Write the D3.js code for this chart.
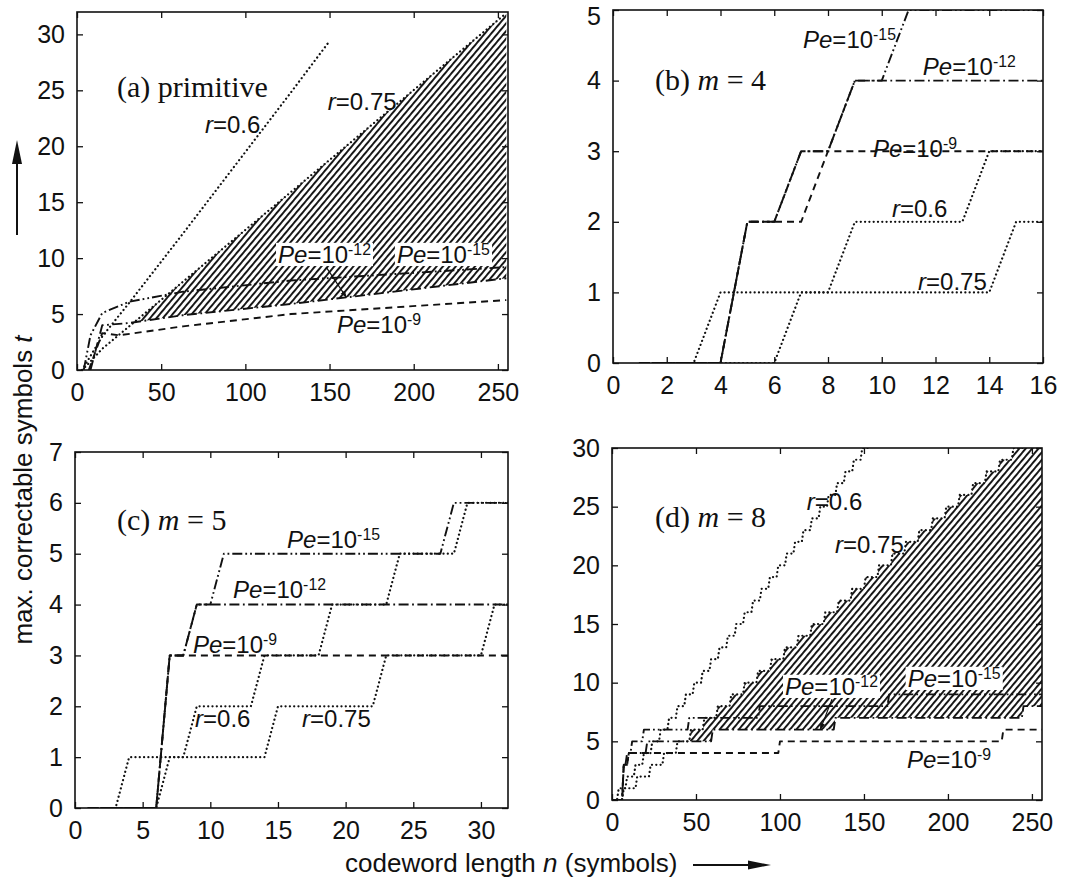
<!DOCTYPE html>
<html>
<head>
<meta charset="utf-8">
<script src="https://cdn.jsdelivr.net/npm/d3@7"></script>
<style>
  body { margin: 0; background: #fff; }
  svg { display: block; }
  text { font-family: "Liberation Sans", Arial, Helvetica, sans-serif; fill: #111; }
</style>
</head>
<body>
<svg id="chart" width="1081" height="884"></svg>
<script>
// ---------- data ----------
// (a) primitive codes: [n, t] polylines
const aRate06  = [[3,0],[7,1],[15,3],[31,6],[63,12.2],[127,24.8],[149,29.2]];
const aRate075 = [[3,0],[7,0.6],[15,1.9],[31,3.9],[63,7.9],[127,15.9],[255,31.9]];
const aPe9  = [[7,0],[15,3.3],[25,3.1],[63,3.9],[127,5.0],[255,6.25]];
const aPe12 = [[8,0],[15,4.0],[31,4.2],[63,4.9],[127,5.9],[255,8.2]];
const aPe15 = [[4,0],[8,3.1],[15,5.1],[31,6.1],[63,7.0],[127,8.0],[255,9.2]];

// (b) m = 4: [n, t] pairs where t changes
const bPe9    = [[1,0],[5,2],[8,3]];
const bPe12   = [[1,0],[5,2],[7,3],[9,4]];
const bPe15   = [[1,0],[5,2],[7,3],[9,4],[11,5]];
const bRate06 = [[1,0],[4,1],[9,2],[14,3]];
const bRate075= [[1,0],[7,1],[15,2]];

// (c) m = 5
const cPe9    = [[1,0],[7,3]];
const cPe12   = [[1,0],[7,3],[9,4]];
const cPe15   = [[1,0],[7,3],[9,4],[11,5],[28,6]];
const cRate06 = [[1,0],[4,1],[9,2],[14,3],[19,4],[24,5],[29,6]];
const cRate075= [[1,0],[7,1],[15,2],[23,3],[31,4]];

// (d) m = 8
const dPe9  = [[1,0],[7,3],[10,4],[100,5],[233,6]];
const dPe12 = [[1,0],[7,3],[10,4],[21,5],[60,6],[133,7],[245,8]];
const dPe15 = [[1,0],[7,3],[9,4],[12,5],[19,6],[46,7],[88,8],[165,9]];
// n at which t grows by one symbol
const dRate06Steps  = [4,9,14,19,24,29,34,39,44,49,54,59,64,69,74,79,84,89,94,99,104,109,114,119,124,129,134,139,144,149,154];
const dRate075Steps = [7,15,23,31,39,47,55,63,71,79,87,95,103,111,119,127,135,143,151,159,167,175,183,191,199,207,215,223,231,239,247,255];

// tick values
const ticksN256 = [0,50,100,150,200,250];
const ticksT30  = [0,5,10,15,20,25,30];
const ticksN16  = [0,2,4,6,8,10,12,14,16];
const ticksT5   = [0,1,2,3,4,5];
const ticksN32  = [0,5,10,15,20,25,30];
const ticksT7   = [0,1,2,3,4,5,6,7];

// ---------- helpers ----------
// turn [n, t] change points into a polyline over integer n
function stepLine(changes, nEnd) {
  const pts = [[changes[0][0], changes[0][1]]];
  for (let i = 1; i < changes.length; i++) {
    const [n, t] = changes[i];
    const prev = pts[pts.length - 1];
    if (n - 1 > prev[0]) pts.push([n - 1, prev[1]]);
    pts.push([n, t]);
  }
  const last = pts[pts.length - 1];
  if (nEnd > last[0]) pts.push([nEnd, last[1]]);
  return pts;
}
function fromIncrements(steps) {
  return [[1, 0]].concat(steps.map((n, i) => [n, i + 1]));
}
function valueAt(pts, n) {
  if (n <= pts[0][0]) return pts[0][1];
  for (let i = 1; i < pts.length; i++) {
    if (n <= pts[i][0]) {
      const [n0, t0] = pts[i - 1], [n1, t1] = pts[i];
      return n1 === n0 ? t1 : t0 + (t1 - t0) * (n - n0) / (n1 - n0);
    }
  }
  return pts[pts.length - 1][1];
}

const STYLE = {
  pe9:  { dash: "7,5", w: 1.9 },
  pe12: { dash: "10,3.5,1.8,3.5", w: 1.9 },
  pe15: { dash: "10,3,1.8,3,1.8,3", w: 1.9 },
  rate: { dash: "0.1,4.2", w: 2.2, cap: "round" }
};
const INK = "#111";

const pe = exp => [["Pe", "i"], ["=10", ""], [exp, "sup"]];
const rr = v => [["r", "i"], ["=" + v, ""]];

// ---------- panels ----------
const panels = [
  {
    id: "a", box: { x: 77, y: 12, w: 431, h: 358 },
    xDomain: [0, 256], yDomain: [0, 32], xTicks: ticksN256, yTicks: ticksT30,
    title: [["(a) primitive", ""]], titleAt: [117, 97],
    series: [
      { pts: aRate06, s: STYLE.rate }, { pts: aRate075, s: STYLE.rate },
      { pts: aPe9, s: STYLE.pe9 }, { pts: aPe12, s: STYLE.pe12 }, { pts: aPe15, s: STYLE.pe15 }
    ],
    hatch: { top: aRate075, bottom: aPe12 },
    labels: [
      { parts: rr("0.6"), n: 76, t: 21.2 },
      { parts: rr("0.75"), n: 149, t: 23.2 },
      { parts: pe("-12"), n: 119.4, t: 9.56, knock: true },
      { parts: pe("-15"), n: 190, t: 9.56, knock: true },
      { parts: pe("-9"), n: 154.4, t: 3.3 }
    ],
    pointer: { from: [148, 9.2], toN: 160, curve: aPe12 }
  },
  {
    id: "b", box: { x: 613, y: 10, w: 430, h: 353 },
    xDomain: [0, 16], yDomain: [0, 5], xTicks: ticksN16, yTicks: ticksT5,
    title: [["(b) ", ""], ["m", "i"], [" = 4", ""]], titleAt: [655, 90],
    series: [
      { pts: stepLine(bRate06, 16), s: STYLE.rate }, { pts: stepLine(bRate075, 16), s: STYLE.rate },
      { pts: stepLine(bPe9, 16), s: STYLE.pe9 }, { pts: stepLine(bPe12, 16), s: STYLE.pe12 },
      { pts: stepLine(bPe15, 16), s: STYLE.pe15 }
    ],
    labels: [
      { parts: pe("-15"), n: 7.07, t: 4.46 },
      { parts: pe("-12"), n: 11.53, t: 4.08 },
      { parts: pe("-9"), n: 9.67, t: 2.92 },
      { parts: rr("0.6"), n: 10.38, t: 2.07 },
      { parts: rr("0.75"), n: 11.35, t: 1.03 }
    ]
  },
  {
    id: "c", box: { x: 75, y: 452, w: 433, h: 356 },
    xDomain: [0, 32], yDomain: [0, 7], xTicks: ticksN32, yTicks: ticksT7,
    title: [["(c) ", ""], ["m", "i"], [" = 5", ""]], titleAt: [117, 530],
    series: [
      { pts: stepLine(cRate06, 32), s: STYLE.rate }, { pts: stepLine(cRate075, 32), s: STYLE.rate },
      { pts: stepLine(cPe9, 32), s: STYLE.pe9 }, { pts: stepLine(cPe12, 32), s: STYLE.pe12 },
      { pts: stepLine(cPe15, 32), s: STYLE.pe15 }
    ],
    labels: [
      { parts: pe("-15"), n: 15.67, t: 5.11 },
      { parts: pe("-12"), n: 11.68, t: 4.13 },
      { parts: pe("-9"), n: 8.72, t: 3.05 },
      { parts: rr("0.6"), n: 8.87, t: 1.59 },
      { parts: rr("0.75"), n: 16.78, t: 1.59 }
    ]
  },
  {
    id: "d", box: { x: 612, y: 448, w: 430, h: 352 },
    xDomain: [0, 256], yDomain: [0, 30], xTicks: ticksN256, yTicks: ticksT30,
    title: [["(d) ", ""], ["m", "i"], [" = 8", ""]], titleAt: [655, 527],
    series: [
      { pts: stepLine(fromIncrements(dRate06Steps), 156), s: STYLE.rate },
      { pts: stepLine(fromIncrements(dRate075Steps), 256), s: STYLE.rate },
      { pts: stepLine(dPe9, 256), s: STYLE.pe9 }, { pts: stepLine(dPe12, 256), s: STYLE.pe12 },
      { pts: stepLine(dPe15, 256), s: STYLE.pe15 }
    ],
    hatch: { top: stepLine(fromIncrements(dRate075Steps), 256), bottom: stepLine(dPe12, 256) },
    labels: [
      { parts: rr("0.6"), n: 116, t: 24.7 },
      { parts: rr("0.75"), n: 132.8, t: 21.05 },
      { parts: pe("-12"), n: 103, t: 8.95, knock: true },
      { parts: pe("-15"), n: 176, t: 9.63, knock: true },
      { parts: pe("-9"), n: 175.6, t: 2.73 }
    ],
    pointer: { from: [131, 8.6], toN: 124, curve: stepLine(dPe12, 256) }
  }
];

// ---------- drawing ----------
const svg = d3.select("#chart");
const defs = svg.append("defs");

const pat = defs.append("pattern").attr("id", "hatch")
  .attr("patternUnits", "userSpaceOnUse").attr("width", 4.9).attr("height", 10)
  .attr("patternTransform", "rotate(40)");
pat.append("rect").attr("x", 0).attr("y", 0).attr("width", 1.9).attr("height", 10).attr("fill", INK);

defs.append("marker").attr("id", "tip").attr("viewBox", "0 0 10 10")
  .attr("refX", 9).attr("refY", 5).attr("markerWidth", 6).attr("markerHeight", 6)
  .attr("orient", "auto")
  .append("path").attr("d", "M0,1.5L10,5L0,8.5Z").attr("fill", INK);

function richText(sel, parts) {
  parts.forEach(([txt, kind]) => {
    const ts = sel.append("tspan").text(txt);
    if (kind === "i") ts.attr("font-style", "italic");
    if (kind === "sup") ts.attr("font-size", "0.66em").attr("dy", "-0.52em");
  });
}

function styleAxis(sel, labelSize) {
  sel.select(".domain").remove();
  sel.attr("font-family", null).attr("font-size", null);
  sel.selectAll(".tick line").attr("stroke", INK).attr("stroke-width", 1.3);
  sel.selectAll(".tick text").attr("fill", INK).style("font-size", labelSize + "px")
    .style("font-family", '"Liberation Sans", Arial, Helvetica, sans-serif');
}

const intFmt = d3.format("d");

panels.forEach(p => {
  const g = svg.append("g").attr("class", "panel-" + p.id);
  const { x: bx, y: by, w: bw, h: bh } = p.box;
  const x = d3.scaleLinear().domain(p.xDomain).range([bx, bx + bw]);
  const y = d3.scaleLinear().domain(p.yDomain).range([by + bh, by]);

  defs.append("clipPath").attr("id", "clip-" + p.id)
    .append("rect").attr("x", bx).attr("y", by).attr("width", bw).attr("height", bh);
  const plot = g.append("g").attr("clip-path", `url(#clip-${p.id})`);

  // hatched band between the code-rate limit and the Pe = 1e-12 curve
  if (p.hatch) {
    const top = p.hatch.top, bot = p.hatch.bottom;
    const lo = Math.max(top[0][0], bot[0][0]);
    const hi = Math.min(top[top.length - 1][0], bot[bot.length - 1][0]);
    const samples = d3.range(lo, hi + 1e-9, 0.25)
      .map(n => ({ n, t1: valueAt(top, n), t0: valueAt(bot, n) }));
    plot.append("path").datum(samples)
      .attr("fill", "url(#hatch)")
      .attr("d", d3.area().defined(d => d.t1 > d.t0 + 1e-6)
        .x(d => x(d.n)).y0(d => y(d.t0)).y1(d => y(d.t1)));
  }

  const line = d3.line().x(d => x(d[0])).y(d => y(d[1]));
  p.series.forEach(s => {
    plot.append("path").datum(s.pts)
      .attr("fill", "none").attr("stroke", INK)
      .attr("stroke-width", s.s.w)
      .attr("stroke-dasharray", s.s.dash)
      .attr("stroke-linecap", s.s.cap || "butt")
      .attr("stroke-linejoin", "round")
      .attr("d", line);
  });

  // pointer from a label to its curve
  if (p.pointer) {
    const tn = p.pointer.toN, tt = valueAt(p.pointer.curve, tn);
    g.append("line")
      .attr("x1", x(p.pointer.from[0])).attr("y1", y(p.pointer.from[1]))
      .attr("x2", x(tn)).attr("y2", y(tt))
      .attr("stroke", INK).attr("stroke-width", 1.2)
      .attr("marker-end", "url(#tip)");
  }

  // curve labels
  p.labels.forEach(l => {
    const lg = g.append("g");
    const txt = lg.append("text").attr("x", x(l.n)).attr("y", y(l.t))
      .style("font-size", "24px");
    richText(txt, l.parts);
    if (l.knock) {
      const bb = txt.node().getBBox();
      lg.insert("rect", "text").attr("x", bb.x - 2).attr("y", bb.y + 2)
        .attr("width", bb.width + 4).attr("height", bb.height - 4).attr("fill", "#fff");
    }
  });

  // panel title
  const tt = g.append("text").attr("x", p.titleAt[0]).attr("y", p.titleAt[1])
    .style("font-family", '"Liberation Serif", "Times New Roman", serif')
    .style("font-size", "30px");
  richText(tt, p.title);

  // axes: labelled bottom/left, mirrored ticks on top/right, all pointing inward
  const fs = 25;
  g.append("g").attr("transform", `translate(0,${by + bh})`)
    .call(d3.axisBottom(x).tickValues(p.xTicks).tickFormat(intFmt)
      .tickSizeInner(-6).tickSizeOuter(0).tickPadding(13))
    .call(s => styleAxis(s, fs));
  g.append("g").attr("transform", `translate(0,${by})`)
    .call(d3.axisTop(x).tickValues(p.xTicks).tickSizeInner(-6).tickSizeOuter(0).tickFormat(""))
    .call(s => styleAxis(s, fs));
  const left = g.append("g").attr("transform", `translate(${bx},0)`)
    .call(d3.axisLeft(y).tickValues(p.yTicks).tickFormat(intFmt)
      .tickSizeInner(-6).tickSizeOuter(0).tickPadding(12))
    .call(s => styleAxis(s, fs));
  // keep the topmost label fully on the page
  left.selectAll(".tick text").each(function () {
    const b = this.getBoundingClientRect();
    if (b.top < 2) d3.select(this).attr("y", 2 - b.top);
  });
  g.append("g").attr("transform", `translate(${bx + bw},0)`)
    .call(d3.axisRight(y).tickValues(p.yTicks).tickSizeInner(-6).tickSizeOuter(0).tickFormat(""))
    .call(s => styleAxis(s, fs));

  g.append("rect").attr("x", bx).attr("y", by).attr("width", bw).attr("height", bh)
    .attr("fill", "none").attr("stroke", INK).attr("stroke-width", 1.6);
});

// ---------- shared axis titles ----------
const xt = svg.append("text").attr("x", 345).attr("y", 872).style("font-size", "26px");
richText(xt, [["codeword length ", ""], ["n", "i"], [" (symbols)", ""]]);
svg.append("line").attr("x1", 693).attr("y1", 865).attr("x2", 752).attr("y2", 865)
  .attr("stroke", INK).attr("stroke-width", 2);
svg.append("path").attr("d", "M748,860.5L771,865L748,869.5Z").attr("fill", INK);

const yt = svg.append("text").attr("transform", "translate(32,490) rotate(-90)")
  .attr("text-anchor", "middle").style("font-size", "26px");
richText(yt, [["max. correctable symbols ", ""], ["t", "i"]]);
svg.append("line").attr("x1", 17).attr("y1", 235).attr("x2", 17).attr("y2", 160)
  .attr("stroke", INK).attr("stroke-width", 2);
svg.append("path").attr("d", "M12,164L17,140L22,164Z").attr("fill", INK);
</script>
</body>
</html>
